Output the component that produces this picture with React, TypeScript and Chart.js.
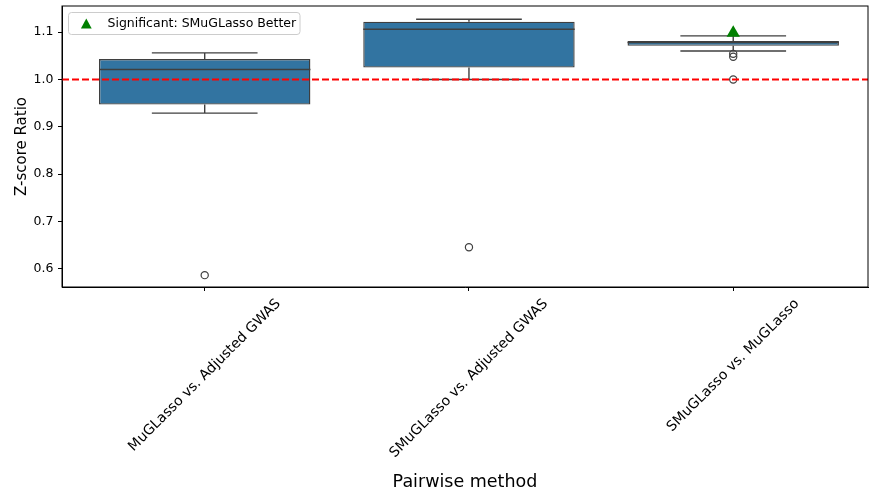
import React, { useEffect, useRef } from 'react';
import { Chart, registerables } from 'chart.js';

Chart.register(...registerables);

// ---- data ----
const categories = ['MuGLasso vs. Adjusted GWAS', 'SMuGLasso vs. Adjusted GWAS', 'SMuGLasso vs. MuGLasso'];
const q1 = [0.947, 1.025, 1.071];
const q3 = [1.043, 1.122, 1.081];
const medians = [1.021, 1.106, 1.078];
const whiskerLow = [0.929, 1.0, 1.06];
const whiskerHigh = [1.056, 1.127, 1.092];
const outlierCategory = [0, 1, 2, 2, 2];
const outlierValues = [0.587, 0.646, 1.054, 1.048, 1.0];
const sigCategory = [2];
const sigValues = [1.098];
const yTicks = [0.6, 0.7, 0.8, 0.9, 1.0, 1.1];
const yMin = 0.562;
const yMax = 1.155;
const xMin = -0.54;
const xMax = 2.51;
const refLine = 1.0;
const legendLabel = 'Significant: SMuGLasso Better';
const xTitle = 'Pairwise method';
const yTitle = 'Z-score Ratio';

const FONT = '"DejaVu Sans", sans-serif';
const BOX_FILL = 'rgb(50,116,161)';
const EDGE = '#3f3f3f';
const SIG_GREEN = '#008000';

export default function App() {
  const ref = useRef<HTMLCanvasElement>(null);

  useEffect(() => {
    const canvas = ref.current!;

    const line = (ctx: CanvasRenderingContext2D, x1: number, y1: number, x2: number, y2: number) => {
      ctx.beginPath();
      ctx.moveTo(x1, y1);
      ctx.lineTo(x2, y2);
      ctx.stroke();
    };

    const extras = {
      id: 'boxExtras',
      beforeDatasetsDraw(chart: any) {
        const { ctx, scales } = chart;
        const y = scales.y;
        const meta = chart.getDatasetMeta(2);
        ctx.save();
        ctx.strokeStyle = EDGE;
        ctx.lineWidth = 1.4;
        categories.forEach((_, i) => {
          const bar = meta.data[i];
          const { x: cx, width } = bar.getProps(['x', 'width'], true);
          const half = width / 4;
          const yq1 = y.getPixelForValue(q1[i]);
          const yq3 = y.getPixelForValue(q3[i]);
          const yl = y.getPixelForValue(whiskerLow[i]);
          const yh = y.getPixelForValue(whiskerHigh[i]);
          line(ctx, cx, yq1, cx, yl);
          line(ctx, cx, yq3, cx, yh);
          line(ctx, cx - half, yl, cx + half, yl);
          line(ctx, cx - half, yh, cx + half, yh);
        });
        ctx.restore();
      },
      afterDatasetsDraw(chart: any) {
        const { ctx, scales, chartArea } = chart;
        const y = scales.y;
        const meta = chart.getDatasetMeta(2);
        ctx.save();
        ctx.strokeStyle = EDGE;
        ctx.lineWidth = 1.4;
        categories.forEach((_, i) => {
          const bar = meta.data[i];
          const { x: cx, width } = bar.getProps(['x', 'width'], true);
          const ym = y.getPixelForValue(medians[i]);
          line(ctx, cx - width / 2, ym, cx + width / 2, ym);
        });
        ctx.strokeStyle = '#ff0000';
        ctx.lineWidth = 1.9;
        ctx.setLineDash([7, 3]);
        const yr = y.getPixelForValue(refLine);
        line(ctx, chartArea.left, yr, chartArea.right, yr);
        ctx.setLineDash([]);
        ctx.strokeStyle = '#000';
        ctx.lineWidth = 1;
        ctx.strokeRect(chartArea.left, chartArea.top, chartArea.right - chartArea.left, chartArea.bottom - chartArea.top);
        const lx = chartArea.left + 6.5;
        const ly = chartArea.top + 6.5;
        const lw = 231.5;
        const lh = 22;
        ctx.beginPath();
        (ctx as any).roundRect(lx, ly, lw, lh, 3);
        ctx.fillStyle = 'rgba(255,255,255,0.8)';
        ctx.fill();
        ctx.strokeStyle = '#cccccc';
        ctx.lineWidth = 1;
        ctx.stroke();
        const tx = lx + 17.8;
        const ty = ly + 11;
        ctx.beginPath();
        ctx.moveTo(tx, ty - 5);
        ctx.lineTo(tx + 5.4, ty + 5);
        ctx.lineTo(tx - 5.4, ty + 5);
        ctx.closePath();
        ctx.fillStyle = SIG_GREEN;
        ctx.fill();
        ctx.fillStyle = '#000';
        ctx.font = `12.5px ${FONT}`;
        ctx.textAlign = 'left';
        ctx.textBaseline = 'middle';
        ctx.fillText(legendLabel, lx + 39, ty + 0.5);
        ctx.restore();
      },
      afterDraw(chart: any) {
        const { ctx, scales, chartArea } = chart;
        const x = scales.x;
        ctx.save();
        const fs = 14;
        ctx.font = `${fs}px ${FONT}`;
        ctx.fillStyle = '#000';
        ctx.textAlign = 'center';
        ctx.textBaseline = 'middle';
        const top = chartArea.bottom + 9;
        categories.forEach((lab, i) => {
          const w = ctx.measureText(lab).width;
          const h = (w + 1.16 * fs) * Math.SQRT1_2;
          const cx = x.getPixelForValue(i);
          const cy = top + h / 2;
          ctx.save();
          ctx.translate(cx, cy);
          ctx.rotate(-Math.PI / 4);
          ctx.fillText(lab, 0, 0);
          ctx.restore();
        });
        ctx.restore();
      },
    };

    const chart = new Chart(canvas, {
      type: 'bar',
      data: {
        datasets: [
          {
            type: 'line',
            label: legendLabel,
            data: sigCategory.map((c, i) => ({ x: c, y: sigValues[i] })),
            showLine: false,
            pointStyle: 'triangle',
            pointRadius: 7.7,
            pointBackgroundColor: SIG_GREEN,
            pointBorderColor: SIG_GREEN,
            pointBorderWidth: 0,
            clip: false,
          } as any,
          {
            type: 'line',
            label: 'outliers',
            data: outlierCategory.map((c, i) => ({ x: c, y: outlierValues[i] })),
            showLine: false,
            pointStyle: 'circle',
            pointRadius: 3.6,
            pointBackgroundColor: 'rgba(255,255,255,0)',
            pointBorderColor: EDGE,
            pointBorderWidth: 1.2,
            clip: false,
          } as any,
          {
            type: 'bar',
            label: 'boxes',
            data: categories.map((_, i) => ({ x: i, y: [q1[i], q3[i]] })),
            backgroundColor: BOX_FILL,
            borderColor: EDGE,
            borderWidth: 1.4,
            borderSkipped: false,
            barPercentage: 0.8,
            categoryPercentage: 1.0,
          } as any,
        ],
      },
      options: {
        responsive: false,
        animation: false,
        devicePixelRatio: 1,
        layout: { autoPadding: false, padding: { top: 6, right: 1, left: 0, bottom: 0 } },
        plugins: {
          legend: { display: false },
          tooltip: { enabled: false },
        },
        scales: {
          x: {
            type: 'linear',
            min: xMin,
            max: xMax,
            offset: false,
            afterBuildTicks(scale: any) {
              scale.ticks = categories.map((_, i) => ({ value: i }));
            },
            grid: {
              display: true,
              drawOnChartArea: false,
              drawTicks: true,
              tickLength: 4,
              tickColor: '#000',
              tickWidth: 1,
              offset: false,
            },
            border: { display: true, color: '#000', width: 1 },
            ticks: { display: false },
            title: {
              display: true,
              text: xTitle,
              color: '#000',
              font: { family: FONT, size: 17.5, lineHeight: 1 },
              padding: { top: 0, bottom: 1.5 },
            },
            afterFit(scale: any) {
              scale.height = 206;
              scale.paddingLeft = 0;
              scale.paddingRight = 0;
            },
          },
          y: {
            type: 'linear',
            min: yMin,
            max: yMax,
            afterBuildTicks(scale: any) {
              scale.ticks = yTicks.map((v) => ({ value: v }));
            },
            grid: {
              display: true,
              drawOnChartArea: false,
              drawTicks: true,
              tickLength: 4,
              tickColor: '#000',
              tickWidth: 1,
            },
            border: { display: true, color: '#000', width: 1 },
            ticks: {
              color: '#000',
              padding: 4.5,
              font: { family: FONT, size: 12.5 },
              callback: (v: any) => Number(v).toFixed(1),
            },
            title: {
              display: true,
              text: yTitle,
              color: '#000',
              font: { family: FONT, size: 15, lineHeight: 1 },
              padding: { top: 14.5, bottom: 0 },
            },
            afterFit(scale: any) {
              scale.width = 62;
              scale.paddingTop = 0;
              scale.paddingBottom = 0;
            },
          },
        },
      },
      plugins: [extras],
    } as any);

    return () => chart.destroy();
  }, []);

  return (
    <div style={{ position: 'absolute', left: 0, top: 0, width: 869, height: 493, background: '#fff' }}>
      <canvas ref={ref} width={869} height={493} style={{ display: 'block', width: 869, height: 493 }} />
    </div>
  );
}
